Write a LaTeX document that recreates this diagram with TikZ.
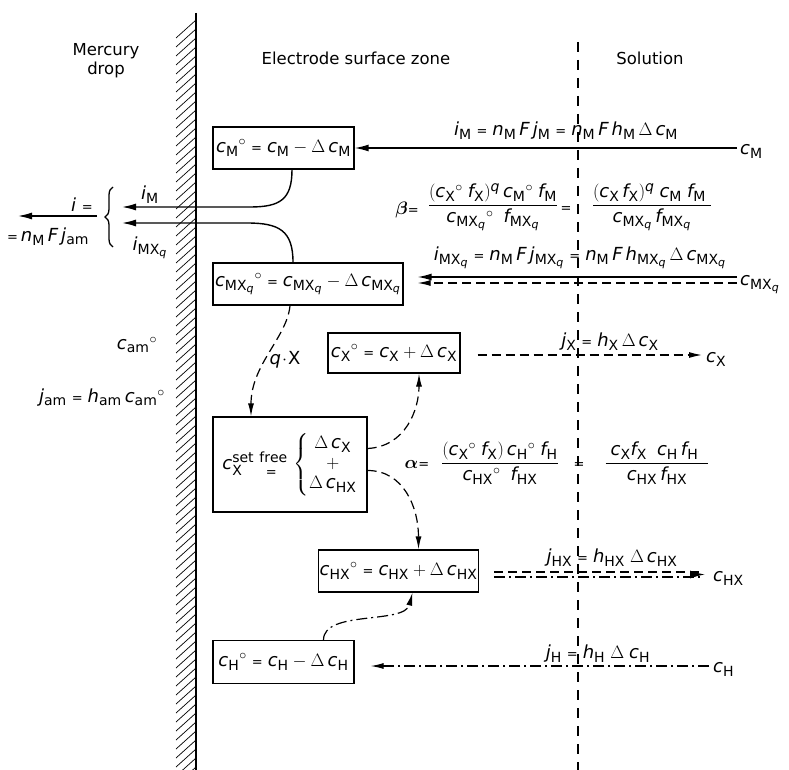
\RequirePackage{fix-cm}
\documentclass[tikz,border=0pt]{standalone}
\usepackage{amsmath}
\usepackage{fontspec}
\setmainfont{DejaVu Sans}
\usetikzlibrary{arrows.meta,decorations.pathreplacing}
\DeclareMathSizes{18}{18}{14}{11}
\DeclareMathSizes{16.5}{16.5}{12}{9}
\newcommand{\Vr}[2]{{\mathit{#1}_{\mathrm{#2}}}}
\newcommand{\Vo}[2]{{\mathit{#1}_{\mathrm{#2}}}^{\circ}}
\newcommand{\MXq}{MX_{\mathit{q}}}
\newcommand{\sEq}{\mathrel{\text{\fontsize{13}{13}\selectfont =}}}
\newcommand{\tEq}{\text{\fontsize{13}{13}\selectfont =}}
\tikzset{
  lab/.style={font=\fontsize{16.5}{19}\selectfont, inner sep=0pt},
  fm/.style={font=\fontsize{18}{21}\selectfont, inner sep=0pt},
  boxn/.style={draw, line width=1.2pt, minimum height=42pt, inner sep=1pt, font=\fontsize{18}{21}\selectfont},
  arr/.style={line width=1.4pt, -{Latex[length=14pt,width=7pt]}},
  darr/.style={line width=1.2pt, dash pattern=on 9pt off 5pt, -{Latex[length=13pt,width=6pt]}},
  dashln/.style={line width=1.2pt, dash pattern=on 9pt off 5pt},
  ddarr/.style={line width=1.2pt, dash pattern=on 11pt off 4pt on 2pt off 4pt, -{Latex[length=13pt,width=6pt]}},
  ddln/.style={line width=1.2pt, dash pattern=on 11pt off 4pt on 2pt off 4pt},
  hatch/.style={line width=0.7pt},
  bracest/.style={line width=1.3pt, decorate, decoration={brace, amplitude=8pt}},
}
\begin{document}
\begin{tikzpicture}[x=1pt,y=-1pt]
\fill[white] (0,0) rectangle (789,770);
\useasboundingbox (0,0) rectangle (789,770);

% electrode wall with hatching
\begin{scope}
  \clip (170,13) rectangle (197,770);
  \foreach \y in {20,29,...,790} \draw[hatch] (176,\y+18) -- (196,\y);
\end{scope}
\draw[line width=1.7pt] (196,13) -- (196,770);

% boundary between surface zone and solution
\draw[line width=1.1pt, dash pattern=on 10pt off 8pt] (578,42) -- (578,770);

% headings
\node[lab] (hMerc) at (106,51) {Mercury};
\node[lab] (hDrop) at (106,70) {drop};
\node[lab] (hZone) at (356,58) {Electrode surface zone};
\node[lab] (hSol) at (650,58) {Solution};

% boxes
\node[boxn, minimum width=141pt] (bM) at (283.5,148) {$\Vo{c}{M} \sEq \Vr{c}{M} - \Delta\,\Vr{c}{M}$};
\node[boxn, minimum width=190pt] (bMX) at (308,284) {$\Vo{c}{\MXq} \sEq \Vr{c}{\MXq} - \Delta\,\Vr{c}{\MXq}$};
\node[boxn, minimum width=132pt, minimum height=40pt] (bX) at (394,353) {$\Vo{c}{X} \sEq \Vr{c}{X} + \Delta\,\Vr{c}{X}$};
\node[boxn, minimum width=154pt, minimum height=95pt] (bSF) at (290,464.5)
  {$\mathit{c}_{\mathrm{X}}^{\mathrm{set\ free}}\hskip-22pt\raisebox{-7pt}{\tEq}\hskip 14pt
   \left\{\renewcommand\arraystretch{0.95}\begin{array}{@{}c@{}}\Delta\,\Vr{c}{X}\\ +\\ \Delta\,\Vr{c}{HX}\end{array}\right.$};
\node[boxn, minimum width=159pt] (bHX) at (398.5,571) {$\Vo{c}{HX} \sEq \Vr{c}{HX} + \Delta\,\Vr{c}{HX}$};
\node[boxn, minimum width=141pt, minimum height=43pt] (bH) at (283.5,662) {$\Vo{c}{H} \sEq \Vr{c}{H} - \Delta\,\Vr{c}{H}$};

% solution-side concentrations
\node[fm, anchor=west] (cM) at (740,151) {$\Vr{c}{M}$};
\node[fm, anchor=west] (cMX) at (740,285) {$\Vr{c}{\MXq}$};
\node[fm, anchor=west] (cX) at (706,359) {$\Vr{c}{X}$};
\node[fm, anchor=west] (cHX) at (713,578) {$\Vr{c}{HX}$};
\node[fm, anchor=west] (cH) at (713,669) {$\Vr{c}{H}$};

\coordinate (eM) at (737,148);
\coordinate (eMX1) at (737,277);
\coordinate (eMX2) at (737,283);
\coordinate (eX) at (702,355);
\coordinate (eHX1) at (703,572);
\coordinate (eHX2) at (703,577);
\coordinate (eHXm) at (705,574.5);
\coordinate (eH) at (709,666);

\coordinate (bMXr) at ([xshift=14pt]bMX.east);
\coordinate (bXr) at ([xshift=17pt]bX.east);
\coordinate (bHXr) at ([xshift=15pt]bHX.east);
\coordinate (bHr) at ([xshift=16pt]bH.east);

% transport arrows
\draw[arr] (eM) -- (eM -| bM.east);
\draw[arr] (eMX1) -- (eMX1 -| bMXr);
\draw[darr] (eMX2) -- (eMX2 -| bMXr);
\draw[darr] (bXr |- eX) -- (eX);
\draw[dashln] (bHXr |- eHX1) -- (eHX1);
\draw[ddln] (bHXr |- eHX2) -- (eHX2);
\draw[line width=1.4pt, -{Latex[length=15pt,width=8pt]}] ([xshift=-10pt]eHXm) -- (eHXm);
\draw[ddarr] (eH) -- (eH -| bHr);

% flux labels
\node[fm] (fM) at (566,131) {$\Vr{i}{M} \sEq \Vr{n}{M}\,\mathit{F}\,\Vr{j}{M} \sEq \Vr{n}{M}\,\mathit{F}\,\Vr{h}{M}\,\Delta\,\Vr{c}{M}$};
\node[fm] (fMX) at (580,258) {$\Vr{i}{\MXq} \sEq \Vr{n}{M}\,\mathit{F}\,\Vr{j}{\MXq} \sEq \Vr{n}{M}\,\mathit{F}\,\Vr{h}{\MXq}\,\Delta\,\Vr{c}{\MXq}$};
\node[fm] (fX) at (610,342) {$\Vr{j}{X}\sEq\Vr{h}{X}\,\Delta\,\Vr{c}{X}$};
\node[fm] (fHX) at (612,558) {$\Vr{j}{HX}\sEq\Vr{h}{HX}\;\Delta\,\Vr{c}{HX}$};
\node[fm] (fH) at (598,654) {$\Vr{j}{H} \sEq \Vr{h}{H}\;\Delta\;\Vr{c}{H}$};

% beta equilibrium
\node[fm] (beta) at (407,210) {$\boldsymbol{\beta}\tEq$};
\node[fm] (bf1) at (493,207) {$\dfrac{(\Vo{c}{X}\;\Vr{f}{X})^{\mathit{q}}\,\Vo{c}{M}\;\Vr{f}{M}}{\;\Vo{c}{\MXq}\;\;\Vr{f}{\MXq}\;}$};
\node[fm] (beq) at (566,210) {\tEq};
\node[fm] (bf2) at (652,207) {$\dfrac{(\Vr{c}{X}\,\Vr{f}{X})^{\mathit{q}}\;\Vr{c}{M}\;\Vr{f}{M}\;}{\Vr{c}{\MXq}\,\Vr{f}{\MXq}}$};

% alpha equilibrium
\node[fm] (alpha) at (417,464) {$\boldsymbol{\alpha}\tEq$};
\node[fm] (af1) at (500,463) {$\dfrac{(\Vo{c}{X}\;\Vr{f}{X})\,\Vo{c}{H}\;\Vr{f}{H}}{\Vo{c}{HX}\;\;\Vr{f}{HX}}$};
\node[fm] (aeq) at (579,466) {\tEq};
\node[fm] (af2) at (657,463) {$\dfrac{\;\Vr{c}{X}\Vr{f}{X}\;\;\Vr{c}{H}\,\Vr{f}{H}\;\;}{\Vr{c}{HX}\,\Vr{f}{HX}}$};

% currents into the mercury
\coordinate (iMc) at (250,207);
\coordinate (iMend) at (122,207);
\coordinate (iMXc) at (247,223);
\coordinate (iMXend) at (122,223);
\draw[arr] ([xshift=8.5pt]bM.south) .. controls +(0,30) and +(30,0) .. (iMc) -- (iMend);
\draw[arr] ([xshift=-15pt]bMX.north) .. controls +(0,-32) and +(32,0) .. (iMXc) -- (iMXend);
\coordinate (brB) at (113,247);
\coordinate (brT) at (113,187);
\draw[bracest] (brB) -- (brT);
\node[fm] (liM) at (150,195) {$\Vr{i}{M}$};
\node[fm] (liMX) at (150,248) {$\Vr{i}{\MXq}$};
\node[fm] (liEq) at (82,205) {$\mathit{i}$ \tEq};
\coordinate (iA) at (97,216);
\coordinate (iB) at (18,216);
\draw[arr] (iA) -- (iB);
\node[fm] (lnF) at (48,237) {\tEq\,$\Vr{n}{M}\,\mathit{F}\,\Vr{j}{am}$};

% amalgam
\node[fm] (lcam) at (137,345) {$\Vo{c}{am}$};
\node[fm] (ljam) at (102,398) {$\Vr{j}{am}\sEq\Vr{h}{am}\,\Vo{c}{am}$};

% surface reactions
\draw[darr] ([xshift=-18pt]bMX.south) .. controls +(-3,32) and +(0,-52) .. ([xshift=-39pt]bSF.north);
\node[fm] (lqX) at (285,360) {$\mathit{q}\!\cdot\!\mathrm{X}$};
\draw[darr] ([yshift=16pt]bSF.east) .. controls +(38,-2) and +(0,36) .. ([xshift=25pt]bX.south);
\draw[darr] ([yshift=-6pt]bSF.east) .. controls +(36,0) and +(0,-42) .. ([xshift=20pt]bHX.north);
\draw[ddarr] ([xshift=40pt]bH.north) .. controls +(0,-30) and +(-8,32) .. ([xshift=14pt]bHX.south);
\end{tikzpicture}
\end{document}
